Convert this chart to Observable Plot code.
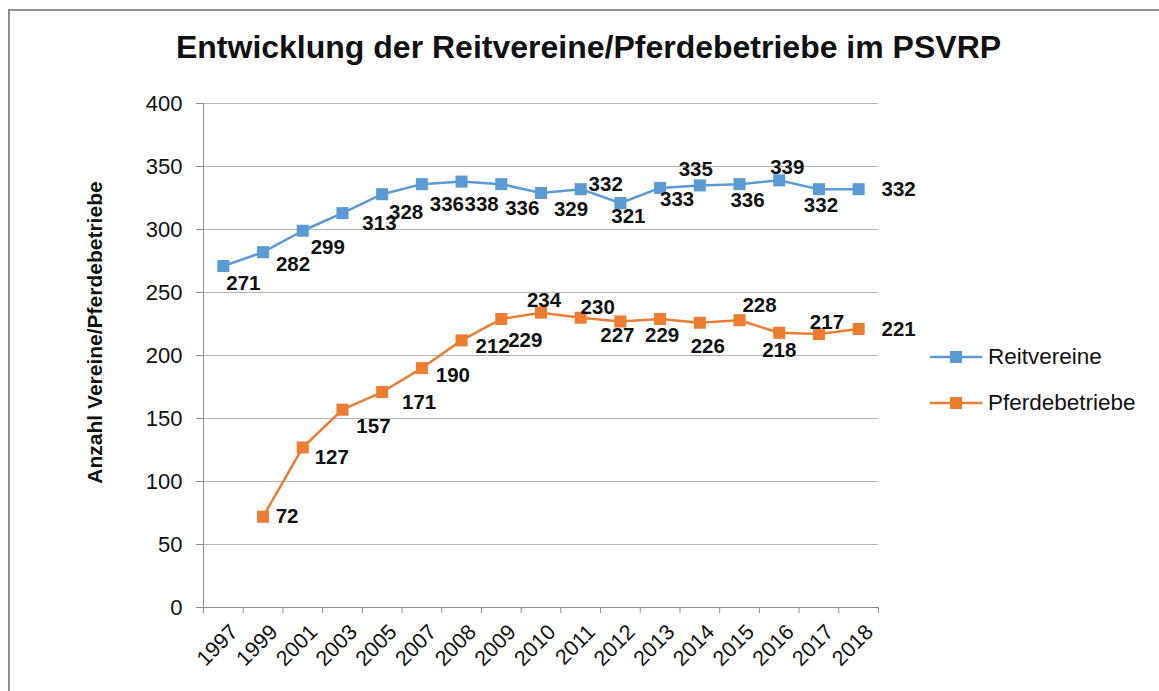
<!DOCTYPE html>
<html>
<head>
<meta charset="utf-8">
<script src="https://cdn.jsdelivr.net/npm/d3@7"></script>
<script src="https://cdn.jsdelivr.net/npm/@observablehq/plot@0.6"></script>
<style>
  html, body { margin: 0; padding: 0; background: #fff; }
  body { width: 1159px; height: 691px; overflow: hidden; position: relative; font-family: "Liberation Sans", Arial, sans-serif; }
  #frame { position: absolute; left: 8px; top: 9px; width: 1300px; height: 900px; border-left: 2px solid #909090; border-top: 2px solid #909090; box-sizing: border-box; }
  #chart { position: absolute; left: 0; top: 0; }
  #legend { position: absolute; left: 930px; top: 334px; }
  .row { position: relative; height: 46px; display: flex; align-items: center; }
  .row span { position: absolute; left: 58px; font-size: 22.5px; color: #111; white-space: nowrap; }
</style>
</head>
<body>
<div id="frame"></div>
<div id="chart"></div>
<div id="legend"></div>
<script>
// ---- data ----
const title = "Entwicklung der Reitvereine/Pferdebetriebe im PSVRP";
const yLabel = "Anzahl Vereine/Pferdebetriebe";
const years = ["1997","1999","2001","2003","2005","2007","2008","2009","2010","2011","2012","2013","2014","2015","2016","2017","2018"];
const seriesNames = ["Reitvereine", "Pferdebetriebe"];
const seriesColors = ["#5B9BD5", "#ED7D31"];
const reitvereine = [271,282,299,313,328,336,338,336,329,332,321,333,335,336,339,332,332];
const pferdebetriebe = [null,72,127,157,171,190,212,229,234,230,227,229,226,228,218,217,221];
const yTicks = [0,50,100,150,200,250,300,350,400];

// label placement (pixel offsets of each data label from its marker)
const reitLabelOffsets = [[20,17],[30,12],[25,17],[37,10],[24,18],[25,20],[20,23],[21,24],[30,16],[25,-5],[8,13],[17,12],[-4,-16],[8,16],[8,-13],[2,16],[40,0]];
const pferdLabelOffsets = [null,[24,0],[29,10],[31,17],[37,10],[31,7],[31,6],[24,21],[3,-12],[17,-10],[-3,14],[2,16],[8,24],[20,-15],[0,18],[8,-12],[40,0]];

// ---- build ----
const n = years.length;
const idx = d3.range(n);
const rows = [];
idx.forEach(i => {
  rows.push({i, v: reitvereine[i], s: seriesNames[0], off: reitLabelOffsets[i]});
  if (pferdebetriebe[i] != null) rows.push({i, v: pferdebetriebe[i], s: seriesNames[1], off: pferdLabelOffsets[i]});
});

const labelMarks = rows.map(r => Plot.text([r], {
  x: "i", y: "v", text: d => String(d.v),
  dx: r.off[0], dy: r.off[1],
  fontSize: 20.5, fontWeight: "bold", fill: "#111",
  textAnchor: "middle", lineAnchor: "middle"
}));

const axisGray = "#8c8c8c";

const chart = Plot.plot({
  width: 1159, height: 691,
  marginLeft: 203, marginRight: 281, marginTop: 103, marginBottom: 84,
  style: {fontFamily: "'Liberation Sans', Arial, sans-serif", background: "transparent", overflow: "visible"},
  x: {domain: [-0.5, n - 0.5], axis: null},
  y: {domain: [0, 400], axis: null},
  color: {domain: seriesNames, range: seriesColors},
  marks: [
    Plot.gridY(yTicks, {stroke: "#b4b4b4", strokeOpacity: 1}),
    Plot.axisY(yTicks, {tickSize: 7, tickPadding: 14, fontSize: 22, stroke: axisGray, fill: "#111", label: null}),
    Plot.ruleX([-0.5], {stroke: axisGray}),
    Plot.ruleY([0], {stroke: axisGray}),
    Plot.axisX(d3.range(n + 1).map(k => k - 0.5), {tickSize: 6, tickFormat: () => "", stroke: axisGray, label: null}),
    Plot.axisX(idx, {tickSize: 0, tickPadding: 0, tickFormat: i => years[i], tickRotate: -45, textAnchor: "end", fontSize: 21.5, fill: "#111", dx: 11, dy: 21, label: null}),
    Plot.line(rows, {x: "i", y: "v", z: "s", stroke: "s", strokeWidth: 2.5}),
    Plot.dot(rows, {x: "i", y: "v", fill: "s", symbol: "square", r: 6.8, stroke: "none"}),
    ...labelMarks,
    Plot.text([yLabel], {text: d => d, frameAnchor: "left", rotate: -90, textAnchor: "middle", lineAnchor: "middle", dx: -108, dy: -23, fontSize: 21, fontWeight: "bold", fill: "#111"}),
    Plot.text([title], {text: d => d, frameAnchor: "top", textAnchor: "middle", lineAnchor: "middle", dx: 47.5, dy: -56, fontSize: 32, fontWeight: "bold", fill: "#111"})
  ]
});
document.getElementById("chart").appendChild(chart);

// legend
const legend = d3.select("#legend");
seriesNames.forEach((name, k) => {
  const row = legend.append("div").attr("class", "row");
  const svg = row.append("svg").attr("width", 54).attr("height", 46);
  svg.append("line").attr("x1", 0).attr("x2", 52).attr("y1", 23).attr("y2", 23)
    .attr("stroke", seriesColors[k]).attr("stroke-width", 2.5);
  svg.append("rect").attr("x", 20).attr("y", 17).attr("width", 12).attr("height", 12)
    .attr("fill", seriesColors[k]);
  row.append("span").text(name);
});
</script>
</body>
</html>
